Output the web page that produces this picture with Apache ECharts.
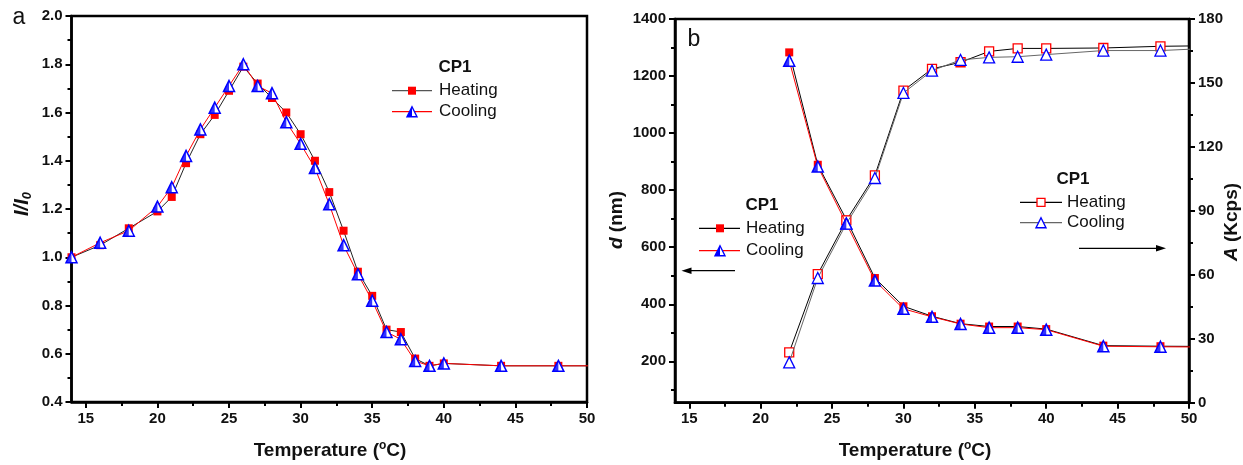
<!DOCTYPE html>
<html>
<head>
<meta charset="utf-8">
<script src="https://cdn.jsdelivr.net/npm/echarts@6/dist/echarts.min.js"></script>
<style>
html, body { margin: 0; padding: 0; background: #fff; }
#chart { width: 1243px; height: 465px; }
</style>
</head>
<body>
<div id="chart"></div>
<script>
const FONT = "'Liberation Sans', Arial, sans-serif";

// Panel a: relative intensity I/I0 against temperature
const tempA = [14, 16, 18, 20, 21, 22, 23, 24, 25, 26, 27, 28, 29, 30, 31, 32, 33, 34, 35, 36, 37, 38, 39, 40, 44, 48, 52];
const heatA = [1.00, 1.05, 1.12, 1.19, 1.25, 1.39, 1.51, 1.59, 1.69, 1.79, 1.72, 1.66, 1.60, 1.51, 1.40, 1.27, 1.11, 0.94, 0.84, 0.70, 0.69, 0.58, 0.55, 0.56, 0.55, 0.55, 0.55];
const coolA = [1.00, 1.06, 1.11, 1.21, 1.29, 1.42, 1.53, 1.62, 1.71, 1.80, 1.71, 1.68, 1.56, 1.47, 1.37, 1.22, 1.05, 0.93, 0.82, 0.69, 0.66, 0.57, 0.55, 0.56, 0.55, 0.55, 0.55];

// Panel b: particle size d (nm) and count rate A (Kcps)
const tempB = [22, 24, 26, 28, 30, 32, 34, 36, 38, 40, 44, 48, 52];
const dHeat = [1283, 889, 697, 492, 393, 358, 332, 322, 322, 313, 255, 253, 252];
const dCool = [1254, 883, 683, 483, 384, 356, 331, 318, 318, 311, 253, 251, 250];
const aHeat = [23.6, 60.3, 85.5, 106.6, 146.4, 156.6, 159.7, 164.8, 166.2, 166.2, 166.4, 167.2, 167.5];
const aCool = [18.9, 58.5, 84.0, 105.4, 145.3, 155.8, 160.8, 162.0, 162.3, 163.3, 165.2, 165.2, 166.4];

// Tick positions
const xMajor = [15, 20, 25, 30, 35, 40, 45, 50];
const xMinor = [17.5, 22.5, 27.5, 32.5, 37.5, 42.5, 47.5];
const dMajor = [200, 400, 600, 800, 1000, 1200, 1400];
const dMinor = [100, 300, 500, 700, 900, 1100, 1300];

const pairs = (xs, ys) => xs.map((x, i) => [x, ys[i]]);

const RED = '#ff0000';
const BLUE = '#0000ff';
const AXW = 2.5;

const labelStyle = {
  fontFamily: FONT, fontWeight: 'bold', fontSize: 15, color: '#111', margin: 9
};

function majorXAxis(grid) {
  return {
    type: 'value', gridIndex: grid, min: 14, max: 50, position: 'bottom',
    axisLine: { show: true, lineStyle: { color: '#000', width: AXW } },
    axisTick: { show: true, inside: false, length: 6, customValues: xMajor, lineStyle: { color: '#000', width: 2 } },
    axisLabel: Object.assign({ customValues: xMajor }, labelStyle),
    splitLine: { show: false }
  };
}
function minorXAxis(grid) {
  return {
    type: 'value', gridIndex: grid, min: 14, max: 50, position: 'bottom',
    axisLine: { show: false },
    axisTick: { show: true, length: 4, customValues: xMinor, lineStyle: { color: '#000', width: 2 } },
    axisLabel: { show: false },
    splitLine: { show: false }
  };
}

// Half-filled triangle drawn as an overlay on the open triangle
function halfFill(xAxisIndex, yAxisIndex, data, size) {
  return {
    type: 'scatter', xAxisIndex, yAxisIndex, data, silent: true, clip: true,
    symbol: 'path://M1,0L0,2L1,2Z', symbolSize: [size / 2, size], symbolOffset: [-size / 4, 0],
    itemStyle: { color: BLUE }, z: 4
  };
}

const series = [
  // Panel a
  {
    type: 'line', name: 'Heating', xAxisIndex: 0, yAxisIndex: 0, data: pairs(tempA, heatA),
    symbol: 'rect', symbolSize: 8, showAllSymbol: true, clip: true,
    lineStyle: { color: '#222', width: 1 }, itemStyle: { color: RED }, z: 2
  },
  {
    type: 'line', name: 'Cooling', xAxisIndex: 0, yAxisIndex: 0, data: pairs(tempA, coolA),
    symbol: 'triangle', symbolSize: 11, showAllSymbol: true, clip: true,
    lineStyle: { color: RED, width: 1 }, itemStyle: { color: '#fff', borderColor: BLUE, borderWidth: 1.5 }, z: 3
  },
  halfFill(0, 0, pairs(tempA, coolA), 11),

  // Panel b, size axis
  {
    type: 'line', name: 'd Heating', xAxisIndex: 2, yAxisIndex: 1, data: pairs(tempB, dHeat),
    symbol: 'rect', symbolSize: 8, showAllSymbol: true, clip: true,
    lineStyle: { color: '#000', width: 1 }, itemStyle: { color: RED }, z: 2
  },
  {
    type: 'line', name: 'd Cooling', xAxisIndex: 2, yAxisIndex: 1, data: pairs(tempB, dCool),
    symbol: 'triangle', symbolSize: 11, showAllSymbol: true, clip: true,
    lineStyle: { color: RED, width: 1 }, itemStyle: { color: '#fff', borderColor: BLUE, borderWidth: 1.5 }, z: 3
  },
  halfFill(2, 1, pairs(tempB, dCool), 11),

  // Panel b, count-rate axis
  {
    type: 'line', name: 'A Heating', xAxisIndex: 2, yAxisIndex: 3, data: pairs(tempB, aHeat),
    symbol: 'rect', symbolSize: 9, showAllSymbol: true, clip: true,
    lineStyle: { color: '#000', width: 1 }, itemStyle: { color: '#fff', borderColor: RED, borderWidth: 1.3 }, z: 2
  },
  {
    type: 'line', name: 'A Cooling', xAxisIndex: 2, yAxisIndex: 3, data: pairs(tempB, aCool),
    symbol: 'triangle', symbolSize: 11, showAllSymbol: true, clip: true,
    lineStyle: { color: '#666', width: 1 }, itemStyle: { color: '#fff', borderColor: BLUE, borderWidth: 1.3 }, z: 3
  }
];

// ---- graphic helpers: legend keys, arrows, titles ----
function triPts(cx, cy, s) {
  return [[cx, cy - s / 2], [cx - s / 2, cy + s / 2], [cx + s / 2, cy + s / 2]];
}
function halfTri(cx, cy, s) {
  return [[cx, cy - s / 2], [cx - s / 2, cy + s / 2], [cx, cy + s / 2]];
}
function hLine(x1, x2, y, color) {
  return { type: 'line', shape: { x1, y1: y, x2, y2: y }, style: { stroke: color, lineWidth: 1.3 }, z: 100 };
}
function txt(x, y, text, size, weight, align) {
  return {
    type: 'text', x, y, z: 100,
    style: { text, fontFamily: FONT, fontSize: size, fontWeight: weight || 'normal', fill: '#111',
             align: align || 'left', verticalAlign: 'middle' }
  };
}
function square(cx, cy, s, filled) {
  return {
    type: 'rect', shape: { x: cx - s / 2, y: cy - s / 2, width: s, height: s }, z: 101,
    style: filled ? { fill: RED } : { fill: '#fff', stroke: RED, lineWidth: 1.3 }
  };
}
function triangle(cx, cy, s, half) {
  const els = [{ type: 'polygon', shape: { points: triPts(cx, cy, s) }, z: 101,
                 style: { fill: '#fff', stroke: BLUE, lineWidth: 1.4 } }];
  if (half) els.push({ type: 'polygon', shape: { points: halfTri(cx, cy, s) }, z: 102, style: { fill: BLUE } });
  return els;
}
function arrow(x1, x2, y) {
  const dir = x2 > x1 ? 1 : -1;
  return [
    { type: 'line', shape: { x1, y1: y, x2: x2 - dir * 6, y2: y }, style: { stroke: '#000', lineWidth: 1.2 }, z: 100 },
    { type: 'polygon', shape: { points: [[x2, y], [x2 - dir * 10, y - 3.2], [x2 - dir * 10, y + 3.2]] }, style: { fill: '#000' }, z: 100 }
  ];
}
function richTitle(x, y, text, rich, rotation) {
  return {
    type: 'text', x, y, rotation: rotation || 0, z: 100,
    style: { text, rich, fontFamily: FONT, fill: '#111', align: 'center', verticalAlign: 'middle' }
  };
}

const boldRich = { fontFamily: FONT, fontWeight: 'bold', fontSize: 19, fill: '#111', color: '#111' };
const rich = {
  b: Object.assign({}, boldRich),
  i: Object.assign({}, boldRich, { fontStyle: 'italic' }),
  ib: Object.assign({}, boldRich, { fontStyle: 'italic', fontSize: 20 }),
  sup: Object.assign({}, boldRich, { fontSize: 12, verticalAlign: 'top', lineHeight: 22 }),
  sub: Object.assign({}, boldRich, { fontSize: 13, fontStyle: 'italic', verticalAlign: 'bottom', lineHeight: 24 })
};

const graphic = [].concat(
  // panel letters
  [txt(19, 18, 'a', 23, 'normal', 'center'), txt(694, 40, 'b', 23, 'normal', 'center')],

  // panel a legend
  [txt(455, 67, 'CP1', 17, 'bold', 'center'),
   hLine(392, 432, 90.7, '#555'), square(412, 90.7, 8, true), txt(439, 90.7, 'Heating', 17),
   hLine(392, 432, 111.7, RED)],
  triangle(412, 111.7, 10, true),
  [txt(439, 111.7, 'Cooling', 17)],

  // panel b legend, size (left axis)
  [txt(762, 205, 'CP1', 17, 'bold', 'center'),
   hLine(699, 740, 228.3, '#000'), square(720, 228.3, 8, true), txt(746, 228.3, 'Heating', 17),
   hLine(699, 740, 250.7, RED)],
  triangle(720, 250.7, 10, true),
  [txt(746, 250.7, 'Cooling', 17)],
  arrow(735, 681.5, 270.7),

  // panel b legend, count rate (right axis)
  [txt(1073, 179, 'CP1', 17, 'bold', 'center'),
   hLine(1020, 1062, 202.3, '#000'), square(1041, 202.3, 8, false), txt(1067, 202.3, 'Heating', 17),
   hLine(1020, 1062, 222.7, '#666')],
  triangle(1041, 222.7, 10, false),
  [txt(1067, 222.7, 'Cooling', 17)],
  arrow(1079, 1166, 248.3),

  // axis titles
  [richTitle(330, 451, '{b|Temperature (}{sup|o}{b|C)}', rich),
   richTitle(915, 451, '{b|Temperature (}{sup|o}{b|C)}', rich),
   richTitle(22, 204, '{ib|I/I}{sub|0}', rich, Math.PI / 2),
   richTitle(617, 220, '{i|d}{b| (nm)}', rich, Math.PI / 2),
   richTitle(1232, 222, '{i|A}{b| (Kcps)}', rich, Math.PI / 2)]
);

const option = {
  backgroundColor: '#fff',
  animation: false,
  grid: [
    { left: 71.5, top: 16, width: 515.5, height: 386, show: true, borderColor: '#000', borderWidth: AXW, backgroundColor: 'transparent', containLabel: false },
    { left: 675, top: 19, width: 514, height: 383.7, show: true, borderColor: '#000', borderWidth: AXW, backgroundColor: 'transparent', containLabel: false }
  ],
  xAxis: [majorXAxis(0), minorXAxis(0), majorXAxis(1), minorXAxis(1)],
  yAxis: [
    {
      type: 'value', gridIndex: 0, min: 0.4, max: 2.0, interval: 0.2, position: 'left',
      axisLine: { show: true, lineStyle: { color: '#000', width: AXW } },
      axisTick: { show: true, length: 6, lineStyle: { color: '#000', width: 2 } },
      minorTick: { show: true, splitNumber: 2, length: 4, lineStyle: { color: '#000', width: 2 } },
      axisLabel: Object.assign({ formatter: v => v.toFixed(1) }, labelStyle),
      splitLine: { show: false }, minorSplitLine: { show: false }
    },
    {
      type: 'value', gridIndex: 1, min: 55, max: 1400, position: 'left',
      axisLine: { show: true, onZero: false, lineStyle: { color: '#000', width: AXW } },
      axisTick: { show: true, length: 6, customValues: dMajor, lineStyle: { color: '#000', width: 2 } },
      axisLabel: Object.assign({ customValues: dMajor, formatter: v => String(v) }, labelStyle),
      splitLine: { show: false }
    },
    {
      type: 'value', gridIndex: 1, min: 55, max: 1400, position: 'left',
      axisLine: { show: false },
      axisTick: { show: true, length: 4, customValues: dMinor, lineStyle: { color: '#000', width: 2 } },
      axisLabel: { show: false },
      splitLine: { show: false }
    },
    {
      type: 'value', gridIndex: 1, min: 0, max: 180, interval: 30, position: 'right',
      axisLine: { show: true, onZero: false, lineStyle: { color: '#000', width: AXW } },
      axisTick: { show: true, length: 6, lineStyle: { color: '#000', width: 2 } },
      minorTick: { show: true, splitNumber: 2, length: 4, lineStyle: { color: '#000', width: 2 } },
      axisLabel: Object.assign({}, labelStyle),
      splitLine: { show: false }, minorSplitLine: { show: false }
    }
  ],
  series,
  graphic
};

const chart = echarts.init(document.getElementById('chart'), null, { renderer: 'canvas' });
chart.setOption(option);
</script>
</body>
</html>
